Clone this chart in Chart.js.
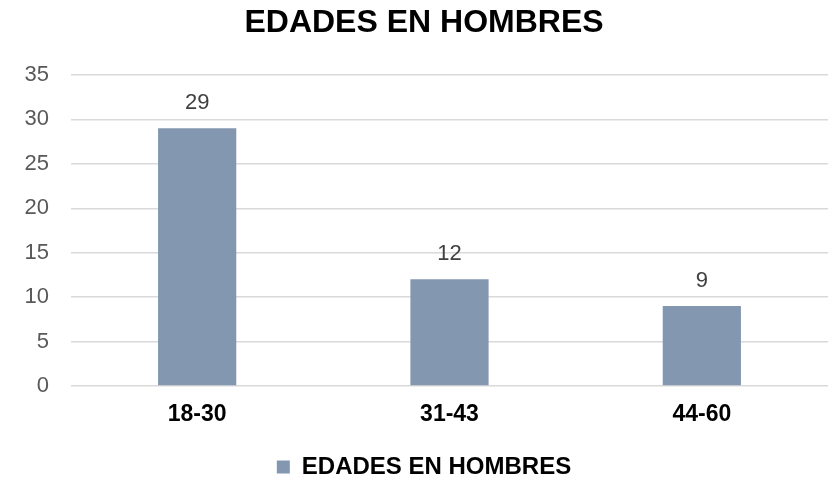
<!DOCTYPE html>
<html>
<head>
<meta charset="utf-8">
<script src="https://cdn.jsdelivr.net/npm/chart.js@4"></script>
<style>
  body { margin: 0; background: #fff; }
  #wrap { width: 833px; height: 478px; }
</style>
</head>
<body>
<div id="wrap"><canvas id="chart" width="833" height="478"></canvas></div>
<script>
const categories = ['18-30', '31-43', '44-60'];
const hombres = [29, 12, 9];
const yTicks = [0, 5, 10, 15, 20, 25, 30, 35];
const seriesName = 'EDADES EN HOMBRES';

const FONT = '"Liberation Sans", Arial, sans-serif';

// draws value above each bar
const valueLabels = {
    id: 'valueLabels',
    afterDatasetsDraw(chart) {
        const ctx = chart.ctx;
        ctx.save();
        ctx.font = '22px ' + FONT;
        ctx.fillStyle = '#404040';
        ctx.textAlign = 'center';
        ctx.textBaseline = 'middle';
        chart.getDatasetMeta(0).data.forEach(function(bar, i) {
            ctx.fillText(chart.data.datasets[0].data[i], bar.x, bar.y - 25);
        });
        ctx.restore();
    }
};

const ctx = document.getElementById('chart').getContext('2d');
new Chart(ctx, {
    type: 'bar',
    data: {
        labels: categories,
        datasets: [{
            label: seriesName,
            data: hombres,
            backgroundColor: '#8497B0',
            barPercentage: 0.62,
            categoryPercentage: 0.5
        }]
    },
    options: {
        responsive: false,
        animation: false,
        layout: { padding: { left: 20, right: 5, top: 0, bottom: -11 } },
        plugins: {
            title: {
                display: true,
                text: seriesName,
                color: '#000',
                font: { family: FONT, size: 32, weight: 'bold' },
                padding: { top: 4, bottom: 32.6 }
            },
            legend: {
                position: 'bottom',
                labels: {
                    color: '#000',
                    boxWidth: 13,
                    boxHeight: 13,
                    padding: 0,
                    font: { family: FONT, size: 24, weight: 'bold' }
                }
            },
            tooltip: { enabled: false }
        },
        scales: {
            x: {
                grid: { display: false, drawTicks: false },
                border: { display: false },
                ticks: {
                    color: '#000',
                    padding: 15,
                    font: { family: FONT, size: 23, weight: 'bold' }
                },
                afterFit: function(scale) { scale.height = 69; }
            },
            y: {
                min: 0,
                max: 35,
                border: { display: false },
                grid: { color: '#d9d9d9', lineWidth: 1.5, drawTicks: false },
                afterBuildTicks: function(scale) {
                    scale.ticks = yTicks.map(function(v) { return { value: v }; });
                },
                afterFit: function(scale) { scale.width = 51; },
                ticks: {
                    color: '#595959',
                    padding: 22,
                    font: { family: FONT, size: 22 }
                }
            }
        }
    },
    plugins: [valueLabels]
});
</script>
</body>
</html>
